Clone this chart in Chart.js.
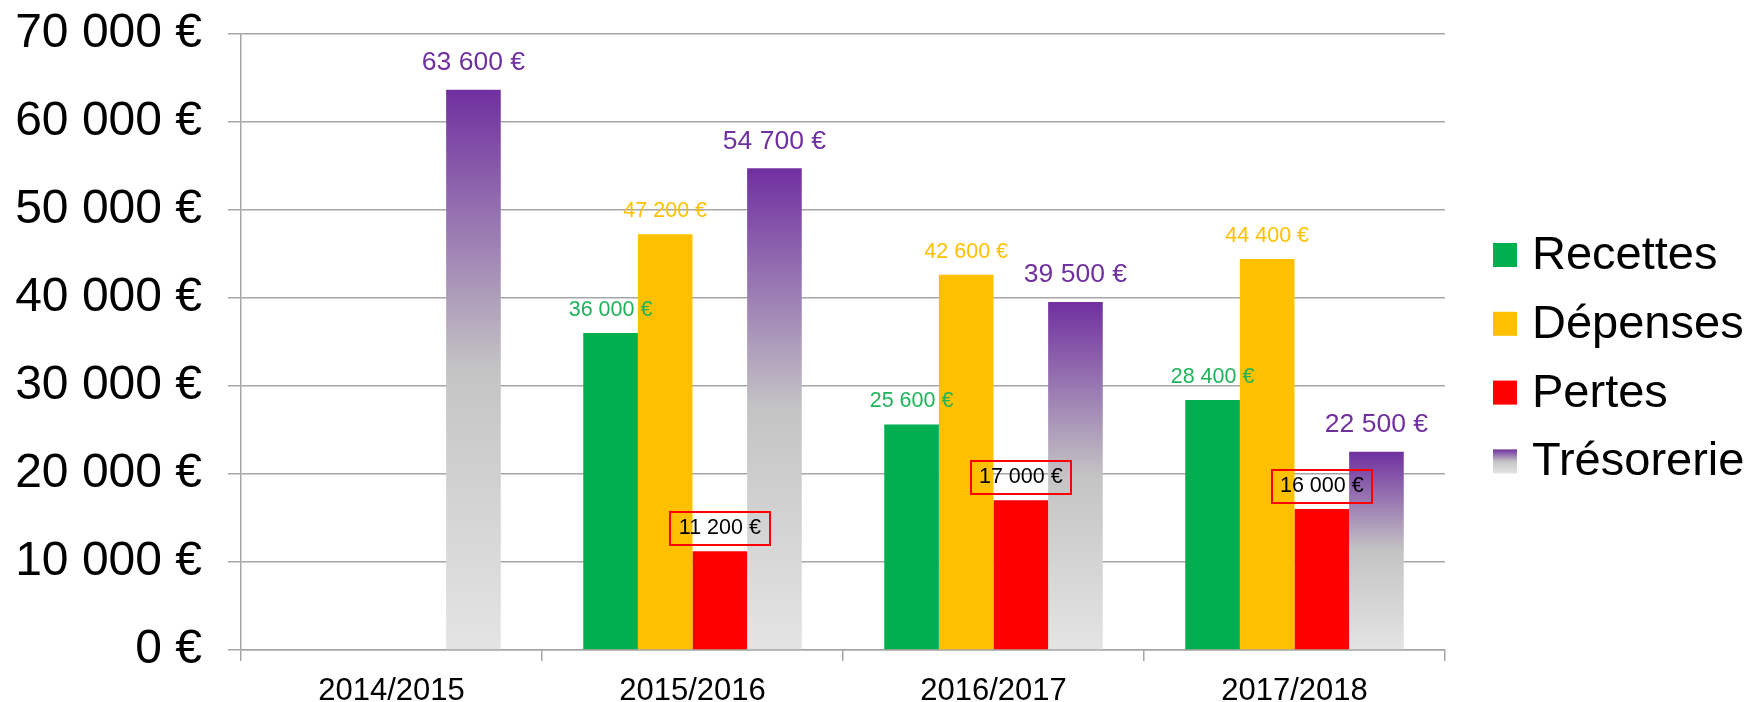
<!DOCTYPE html>
<html><head><meta charset="utf-8">
<script src="https://cdn.jsdelivr.net/npm/chart.js@4"></script>
<style>html,body{margin:0;padding:0;background:#fff;overflow:hidden}#wrap{width:1750px;height:702px;position:relative}</style>
</head><body><div id="wrap"><canvas id="c" width="1750" height="702"></canvas></div>
<script>
// ---- data ----
const categories = ['2014/2015', '2015/2016', '2016/2017', '2017/2018'];
const recettes   = [null, 36000, 25600, 28400];
const depenses   = [null, 47200, 42600, 44400];
const pertes     = [null, 11200, 17000, 16000];
const tresorerie = [63600, 54700, 39500, 22500];
const seriesNames = ['Recettes', 'Dépenses', 'Pertes', 'Trésorerie'];
const yMin = 0, yMax = 70000, yStep = 10000;

// ---- styles ----
const FONT = '"Liberation Sans", Arial, sans-serif';
const GRID = '#A6A6A6';
const seriesColors = ['#00B050', '#FFC000', '#FF0000', null];
const labelStyles = [
  {color: '#1FB35A', size: 21.5, offset: 23, box: false},
  {color: '#FFC000', size: 21.5, offset: 23, box: false},
  {color: '#000000', size: 21.5, offset: 23, box: true},
  {color: '#7030A0', size: 26.5, offset: 27, box: false}
];
const legendStyle = {x: 1493, y0: 255, step: 68.8, box: 24, gap: 15, size: 47};

function fmt(v) {
  return String(v).replace(/\B(?=(\d{3})+(?!\d))/g, ' ') + ' €';
}

function tresoGradient(ctx, top, bottom) {
  const g = ctx.createLinearGradient(0, top, 0, bottom);
  g.addColorStop(0, '#7030A0');
  g.addColorStop(0.5, '#C4C4C4');
  g.addColorStop(1, '#E4E4E4');
  return g;
}

const valueLabels = {
  id: 'valueLabels',
  afterDatasetsDraw(chart) {
    const ctx = chart.ctx;
    chart.data.datasets.forEach((ds, di) => {
      const meta = chart.getDatasetMeta(di);
      const st = labelStyles[di];
      meta.data.forEach((bar, i) => {
        const v = ds.data[i];
        if (v == null) return;
        const cy = bar.y - st.offset;
        ctx.save();
        ctx.font = st.size + 'px ' + FONT;
        ctx.textAlign = 'center';
        ctx.textBaseline = 'middle';
        if (st.box) {
          ctx.strokeStyle = '#FF0000';
          ctx.lineWidth = 2;
          ctx.strokeRect(Math.round(bar.x - 50), Math.round(cy - 16.5), 100, 33);
        }
        ctx.fillStyle = st.color;
        ctx.fillText(fmt(v), bar.x, cy);
        ctx.restore();
      });
    });
  }
};

const customLegend = {
  id: 'customLegend',
  afterDraw(chart) {
    const ctx = chart.ctx;
    const L = legendStyle;
    ctx.save();
    ctx.font = L.size + 'px ' + FONT;
    ctx.textAlign = 'left';
    ctx.textBaseline = 'middle';
    chart.data.datasets.forEach((ds, i) => {
      const cy = L.y0 + i * L.step;
      const top = cy - L.box / 2;
      ctx.fillStyle = seriesColors[i] || tresoGradient(ctx, top, top + L.box);
      ctx.fillRect(L.x, top, L.box, L.box);
      ctx.fillStyle = '#000';
      ctx.fillText(ds.label, L.x + L.box + L.gap, cy + 1);
    });
    ctx.restore();
  }
};

Chart.defaults.font.family = FONT;
Chart.defaults.color = '#000';

new Chart(document.getElementById('c'), {
  type: 'bar',
  data: {
    labels: categories,
    datasets: [
      {label: seriesNames[0], data: recettes, backgroundColor: seriesColors[0]},
      {label: seriesNames[1], data: depenses, backgroundColor: seriesColors[1]},
      {label: seriesNames[2], data: pertes, backgroundColor: seriesColors[2]},
      {label: seriesNames[3], data: tresorerie,
        backgroundColor: (c) => {
          if (c.type !== 'data' || !c.chart.chartArea) return '#7030A0';
          const y = c.chart.scales.y;
          return tresoGradient(c.chart.ctx, y.getPixelForValue(c.raw), y.getPixelForValue(0));
        }}
    ]
  },
  options: {
    responsive: false,
    animation: false,
    devicePixelRatio: 1,
    layout: {padding: {left: 0, right: 305, top: 33.5, bottom: 0}},
    datasets: {bar: {categoryPercentage: 0.726, barPercentage: 1.0, borderWidth: 0}},
    plugins: {
      legend: {display: false},
      tooltip: {enabled: false}
    },
    scales: {
      x: {
        grid: {drawOnChartArea: false, drawTicks: true, tickLength: 11, color: GRID, lineWidth: 1.5},
        border: {display: true, color: GRID, width: 1.5},
        ticks: {font: {size: 31, family: FONT}, color: '#000', padding: 12, maxRotation: 0},
        afterFit(s) { s.height = 52; s.paddingLeft = 0; s.paddingRight = 0; }
      },
      y: {
        min: yMin, max: yMax,
        grid: {drawOnChartArea: true, drawTicks: true, tickLength: 13, color: GRID, lineWidth: 1.5},
        border: {display: true, color: GRID, width: 1.5},
        ticks: {stepSize: yStep, font: {size: 48, family: FONT}, color: '#000', padding: 26,
          callback: (v) => fmt(v)},
        afterFit(s) { s.width = 241; s.paddingTop = 0; s.paddingBottom = 0; }
      }
    }
  },
  plugins: [valueLabels, customLegend]
});
</script>
</body></html>
